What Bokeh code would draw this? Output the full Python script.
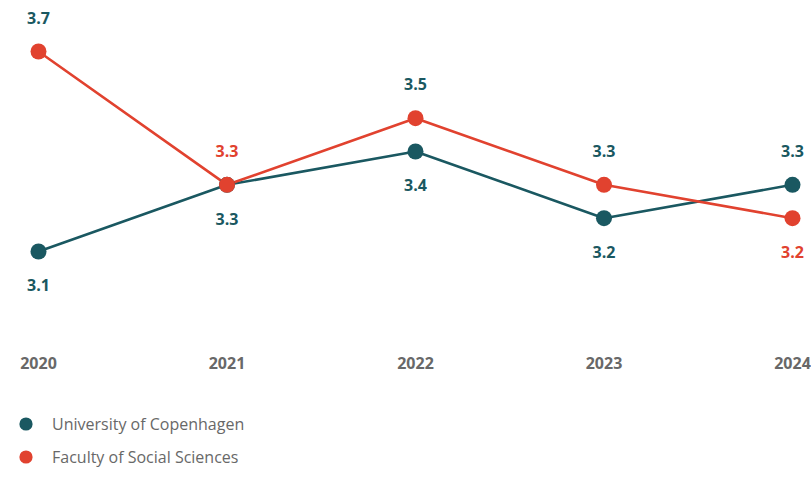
from bokeh.plotting import figure
from bokeh.models import ColumnDataSource, Legend, LegendItem, FixedTicker, Range1d
from bokeh.core.properties import value
from bokeh.embed import file_html
from bokeh.resources import INLINE

# ---- data ----
years = [2020, 2021, 2022, 2023, 2024]
ucph = [3.1, 3.3, 3.4, 3.2, 3.3]
social = [3.7, 3.3, 3.5, 3.3, 3.2]
series_names = ["University of Copenhagen", "Faculty of Social Sciences"]

# ---- styles ----
TEAL = "#1a5861"
RED = "#e1422f"
GREY = "#686868"
FONT = "Open Sans"
ucph_label_colors = [TEAL, TEAL, TEAL, TEAL, TEAL]
social_label_colors = [TEAL, RED, TEAL, TEAL, RED]
ucph_label_offsets = [34, 34, 34, 34, -34]      # px, positive = below
social_label_offsets = [-34, -34, -34, -34, 34]

# ---- layout ----
W, H = 811, 495
PX_PER_YEAR = 188.5
PX_PER_UNIT = 333.33
x0 = years[0] - 38 / PX_PER_YEAR
x1 = x0 + W / PX_PER_YEAR
y1 = 3.7 + 51 / PX_PER_UNIT
y0 = y1 - H / PX_PER_UNIT

p = figure(width=W, height=H, output_backend="svg", toolbar_location=None,
           x_range=Range1d(x0, x1), y_range=Range1d(y0, y1),
           min_border=0, background_fill_color=None, border_fill_color=None)
p.outline_line_color = None
p.grid.visible = False
p.yaxis.visible = False

ax = p.xaxis[0]
ax.fixed_location = y1 - 348 / PX_PER_UNIT
ax.ticker = FixedTicker(ticks=years)
ax.axis_line_color = None
ax.major_tick_line_color = None
ax.minor_tick_line_color = None
ax.major_tick_out = 0
ax.major_label_standoff = 8
ax.major_label_text_font = FONT
ax.major_label_text_font_style = "bold"
ax.major_label_text_font_size = "16px"
ax.major_label_text_color = GREY

src_u = ColumnDataSource(dict(x=years, y=ucph, lab=[f"{v:.1f}" for v in ucph],
                              c=ucph_label_colors, off=ucph_label_offsets))
src_s = ColumnDataSource(dict(x=years, y=social, lab=[f"{v:.1f}" for v in social],
                              c=social_label_colors, off=social_label_offsets))

p.line("x", "y", source=src_u, line_color=TEAL, line_width=2.6)
p.line("x", "y", source=src_s, line_color=RED, line_width=2.6)
r_u = p.scatter("x", "y", source=src_u, size=16, fill_color=TEAL, line_color=None)
r_s = p.scatter("x", "y", source=src_s, size=16, fill_color=RED, line_color=None)

for src in (src_u, src_s):
    p.text("x", "y", text="lab", source=src, y_offset="off", text_color="c",
           text_font=value(FONT), text_font_style="bold", text_font_size="16px",
           text_align="center", text_baseline="middle")

legend = Legend(items=[LegendItem(label=series_names[0], renderers=[r_u]),
                       LegendItem(label=series_names[1], renderers=[r_s])],
                location=(9, 22), orientation="vertical",
                glyph_width=33, glyph_height=33, label_height=33, spacing=0,
                label_standoff=10, padding=0, margin=0,
                background_fill_alpha=0, border_line_color=None,
                label_text_font=FONT, label_text_font_size="16px",
                label_text_color=GREY)
p.add_layout(legend)

open("out.html", "w").write(file_html(p, INLINE))
